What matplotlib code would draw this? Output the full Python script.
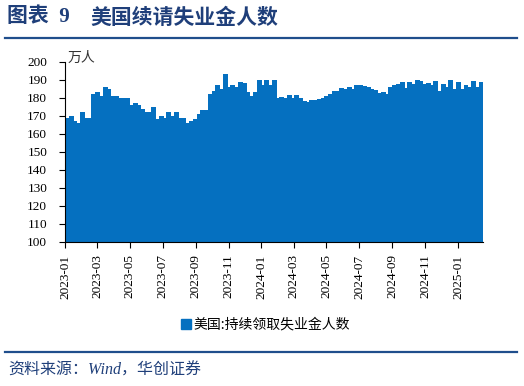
import matplotlib
matplotlib.use('Agg')
import matplotlib.pyplot as plt
from matplotlib.lines import Line2D
from matplotlib.patches import Patch
import pandas as pd

# ---- data ----
start_date = '2023-01-04'
claims = [
    169, 170, 167, 166, 172, 169, 169,
    182, 183, 181, 186, 185, 181, 181, 180, 180, 180,
    176, 177, 176, 174, 172, 172, 175,
    168, 170, 169, 172, 170, 172, 169, 169,
    166, 167, 168, 171, 173, 173,
    182, 184, 187, 185, 193, 186, 187, 186, 189, 188,
    183, 181, 183, 190, 187, 190, 187, 190, 180,
    180.5, 180, 181.5, 180, 181.5, 180, 178, 177.5, 178.5, 179,
    179.5, 180, 181, 182, 183.5, 184, 185.5, 185, 186, 185,
    187, 187, 186.5, 186, 185, 184.5, 182.5, 183, 182, 186,
    187, 187.5, 189, 185.5, 188.5, 187.5, 190, 189.5, 187.5, 188,
    187, 189.5, 183.5, 187.5, 186, 190, 185, 188.5, 185, 187,
    186, 189.5, 186, 189,
]
tick_labels = ['2023-01', '2023-03', '2023-05', '2023-07', '2023-09', '2023-11',
               '2024-01', '2024-03', '2024-05', '2024-07', '2024-09', '2024-11',
               '2025-01']
series_name = '美国:持续领取失业金人数'
y_ticks = list(range(100, 201, 10))

dates = pd.date_range(start_date, periods=len(claims), freq='7D')

CJK = 'Noto Sans CJK SC'
SERIF = 'Liberation Serif'
plt.rcParams['font.family'] = [SERIF, CJK]

W, H = 524, 386
fig = plt.figure(figsize=(W / 100, H / 100), dpi=100)
left, right, top, bottom = 65.3, 482.7, 61.7, 242.0
ax = fig.add_axes([left / W, 1 - bottom / H, (right - left) / W, (bottom - top) / H])

bar_color = '#0570C0'
ax.bar(dates, claims, width=7.4, color=bar_color, edgecolor=bar_color, linewidth=0.6,
       align='center', antialiased=False)

ax.set_xlim(pd.Timestamp('2023-01-01'), pd.Timestamp('2025-02-16'))
ax.set_ylim(100, 200)
ax.set_yticks(y_ticks)
ax.set_yticklabels([str(v) for v in y_ticks], fontsize=9.5, family=SERIF)
ax.set_xticks(pd.to_datetime(tick_labels))
ax.set_xticklabels(tick_labels, rotation=90, fontsize=9.5, family=SERIF)
ax.tick_params(axis='both', direction='out', length=4, width=0.8, color='black')
ax.tick_params(axis='y', pad=9)
ax.tick_params(axis='x', pad=5)
for s in ['top', 'right']:
    ax.spines[s].set_visible(False)
for s in ['left', 'bottom']:
    ax.spines[s].set_color('black')
    ax.spines[s].set_linewidth(0.8)

# unit label
fig.text(68 / W, 1 - 58 / H, '万人', fontsize=10, family=[CJK], color='#333333',
         va='center', ha='left')

# legend
handle = Patch(facecolor=bar_color, edgecolor=bar_color)
fig.legend([handle], [series_name], loc='center',
           bbox_to_anchor=(265 / W, 1 - 325 / H), frameon=False,
           handlelength=0.75, handleheight=0.75, handletextpad=0.15,
           prop={'family': [CJK], 'size': 10})

# title and decorations
navy = '#1F3F7A'
fig.text(7 / W, 1 - 17 / H, '图表  9', fontsize=15, fontweight='bold',
         color=navy, family=[SERIF, CJK], va='center', ha='left')
fig.text(90 / W, 1 - 17 / H, '美国续请失业金人数', fontsize=15, fontweight='bold',
         color=navy, family=[CJK], va='center', ha='left')
fig.add_artist(Line2D([5 / W, 517 / W], [1 - 38 / H, 1 - 38 / H],
                      color='#1F4E8C', lw=1.6))
fig.add_artist(Line2D([5 / W, 517 / W], [1 - 352 / H, 1 - 352 / H],
                      color='#1F4E8C', lw=1.6))
fig.text(8 / W, 1 - 371 / H, '资料来源：Wind，华创证券', fontsize=11.5,
         style='italic', color=navy, family=[SERIF, CJK], va='center', ha='left')

fig.savefig('out.png', dpi=100)
